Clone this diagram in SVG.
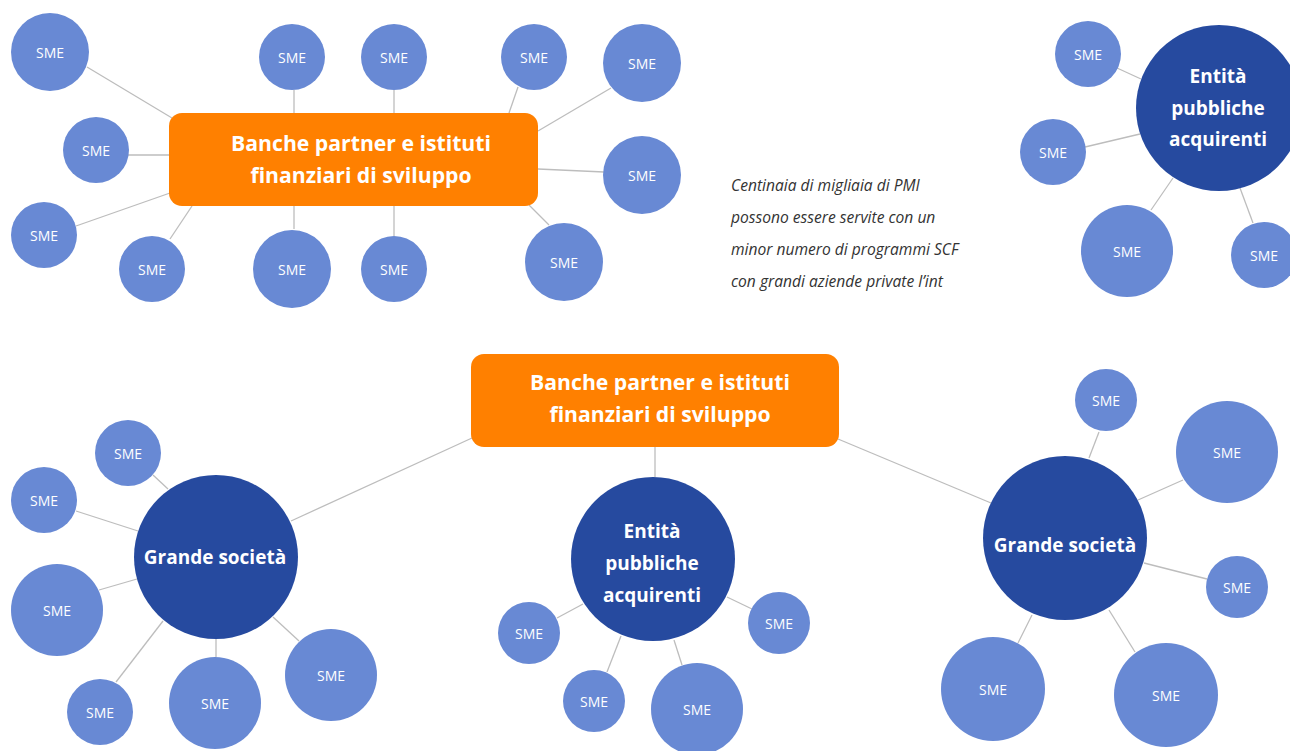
<svg xmlns="http://www.w3.org/2000/svg" width="1290" height="751" viewBox="0 0 1290 751">
  <style>
    .sme { fill: #6889D4; }
    .hub { fill: #264A9F; }
    .bank { fill: #FF8000; }
    .link { stroke: #BDBDBD; stroke-width: 1.3; fill: none; }
    .t-sme { font-family: "Open Sans", "Noto Sans", sans-serif; font-size: 14px; fill: #FFFFFF; text-anchor: middle; }
    .t-hub { font-family: "Open Sans", "Noto Sans", sans-serif; font-size: 19px; font-weight: bold; fill: #FFFFFF; text-anchor: middle; }
    .t-bank { font-family: "Open Sans", "Noto Sans", sans-serif; font-size: 21.2px; font-weight: bold; fill: #FFFFFF; text-anchor: middle; }
    .note { font-family: "Open Sans", "Noto Sans", sans-serif; font-size: 15.6px; font-style: italic; fill: #333333; }
  </style>

  <!-- connectors -->
  <g id="connectors" class="link">
    <!-- top-left bank cluster -->
    <line x1="87" y1="67" x2="172" y2="118"/>
    <line x1="127" y1="155" x2="170" y2="155"/>
    <line x1="76" y1="226" x2="170" y2="193"/>
    <line x1="170" y1="239" x2="192" y2="206"/>
    <line x1="294" y1="90" x2="294" y2="113"/>
    <line x1="394" y1="90" x2="394" y2="113"/>
    <line x1="518" y1="87" x2="509" y2="113"/>
    <line x1="611" y1="88" x2="538" y2="131"/>
    <line x1="604" y1="172" x2="538" y2="169"/>
    <line x1="549" y1="225" x2="529" y2="205"/>
    <line x1="294" y1="206" x2="294" y2="229"/>
    <line x1="394" y1="206" x2="394" y2="236"/>
    <!-- top-right public buyer cluster -->
    <line x1="1117" y1="68" x2="1141" y2="79"/>
    <line x1="1085" y1="147" x2="1140" y2="134"/>
    <line x1="1151" y1="210" x2="1173" y2="178"/>
    <line x1="1253" y1="223" x2="1240" y2="188"/>
    <!-- bottom bank to hubs -->
    <line x1="291" y1="521" x2="472" y2="438"/>
    <line x1="655" y1="447" x2="655" y2="477"/>
    <line x1="838" y1="439" x2="991" y2="503"/>
    <!-- bottom-left corporate -->
    <line x1="153" y1="475" x2="168" y2="489"/>
    <line x1="76" y1="511" x2="138" y2="531"/>
    <line x1="99" y1="590" x2="137" y2="579"/>
    <line x1="116" y1="682" x2="163" y2="621"/>
    <line x1="216" y1="639" x2="216" y2="657"/>
    <line x1="273" y1="617" x2="299" y2="641"/>
    <!-- bottom-centre public buyer -->
    <line x1="557" y1="618" x2="583" y2="604"/>
    <line x1="607" y1="672" x2="621" y2="636"/>
    <line x1="682" y1="665" x2="674" y2="640"/>
    <line x1="752" y1="609" x2="727" y2="597"/>
    <!-- bottom-right corporate -->
    <line x1="1099" y1="432" x2="1089" y2="458"/>
    <line x1="1183" y1="480" x2="1138" y2="500"/>
    <line x1="1207" y1="579" x2="1144" y2="563"/>
    <line x1="1018" y1="643" x2="1032" y2="615"/>
    <line x1="1135" y1="652" x2="1109" y2="610"/>
  </g>

  <!-- top-left: partner banks with SMEs -->
  <g id="bank-top">
    <rect class="bank" x="169" y="113" width="369" height="93" rx="13"/>
    <text class="t-bank" x="361" y="151">Banche partner e istituti</text>
    <text class="t-bank" x="361" y="183">finanziari di sviluppo</text>
  </g>
  <g id="sme-t1"><circle class="sme" cx="50" cy="52" r="39"/><text class="t-sme" x="50" y="58">SME</text></g>
  <g id="sme-t2"><circle class="sme" cx="96" cy="150" r="33"/><text class="t-sme" x="96" y="156">SME</text></g>
  <g id="sme-t3"><circle class="sme" cx="44" cy="235" r="33"/><text class="t-sme" x="44" y="241">SME</text></g>
  <g id="sme-t4"><circle class="sme" cx="152" cy="269" r="33"/><text class="t-sme" x="152" y="275">SME</text></g>
  <g id="sme-t5"><circle class="sme" cx="292" cy="57" r="33"/><text class="t-sme" x="292" y="63">SME</text></g>
  <g id="sme-t6"><circle class="sme" cx="394" cy="57" r="33"/><text class="t-sme" x="394" y="63">SME</text></g>
  <g id="sme-t7"><circle class="sme" cx="534" cy="57" r="33"/><text class="t-sme" x="534" y="63">SME</text></g>
  <g id="sme-t8"><circle class="sme" cx="642" cy="63" r="39"/><text class="t-sme" x="642" y="69">SME</text></g>
  <g id="sme-t9"><circle class="sme" cx="642" cy="175" r="39"/><text class="t-sme" x="642" y="181">SME</text></g>
  <g id="sme-t10"><circle class="sme" cx="564" cy="262" r="39"/><text class="t-sme" x="564" y="268">SME</text></g>
  <g id="sme-t11"><circle class="sme" cx="292" cy="269" r="39"/><text class="t-sme" x="292" y="275">SME</text></g>
  <g id="sme-t12"><circle class="sme" cx="394" cy="269" r="33"/><text class="t-sme" x="394" y="275">SME</text></g>

  <!-- explanatory note -->
  <g id="note">
    <text class="note" x="731" y="191">Centinaia di migliaia di PMI</text>
    <text class="note" x="731" y="223">possono essere servite con un</text>
    <text class="note" x="731" y="255">minor numero di programmi SCF</text>
    <text class="note" x="731" y="287">con grandi aziende private l’int</text>
  </g>

  <!-- top-right: public buyer with SMEs -->
  <g id="public-top">
    <circle class="hub" cx="1219" cy="108" r="83"/>
    <text class="t-hub" x="1218" y="83">Entità</text>
    <text class="t-hub" x="1218" y="114.5">pubbliche</text>
    <text class="t-hub" x="1218" y="146">acquirenti</text>
  </g>
  <g id="sme-r1"><circle class="sme" cx="1088" cy="54" r="33"/><text class="t-sme" x="1088" y="60">SME</text></g>
  <g id="sme-r2"><circle class="sme" cx="1053" cy="152" r="33"/><text class="t-sme" x="1053" y="158">SME</text></g>
  <g id="sme-r3"><circle class="sme" cx="1127" cy="251" r="46"/><text class="t-sme" x="1127" y="257">SME</text></g>
  <g id="sme-r4"><circle class="sme" cx="1264" cy="255" r="33"/><text class="t-sme" x="1264" y="261">SME</text></g>

  <!-- bottom: partner banks feeding three hubs -->
  <g id="bank-bottom">
    <rect class="bank" x="471" y="354" width="368" height="93" rx="13"/>
    <text class="t-bank" x="660" y="390">Banche partner e istituti</text>
    <text class="t-bank" x="660" y="422">finanziari di sviluppo</text>
  </g>

  <g id="corp-left">
    <circle class="hub" cx="216" cy="557" r="82"/>
    <text class="t-hub" x="215" y="564">Grande società</text>
  </g>
  <g id="sme-bl1"><circle class="sme" cx="128" cy="453" r="33"/><text class="t-sme" x="128" y="459">SME</text></g>
  <g id="sme-bl2"><circle class="sme" cx="44" cy="500" r="33"/><text class="t-sme" x="44" y="506">SME</text></g>
  <g id="sme-bl3"><circle class="sme" cx="57" cy="610" r="46"/><text class="t-sme" x="57" y="616">SME</text></g>
  <g id="sme-bl4"><circle class="sme" cx="100" cy="712" r="33"/><text class="t-sme" x="100" y="718">SME</text></g>
  <g id="sme-bl5"><circle class="sme" cx="215" cy="703" r="46"/><text class="t-sme" x="215" y="709">SME</text></g>
  <g id="sme-bl6"><circle class="sme" cx="331" cy="675" r="46"/><text class="t-sme" x="331" y="681">SME</text></g>

  <g id="public-bottom">
    <circle class="hub" cx="653" cy="559" r="82"/>
    <text class="t-hub" x="652" y="538">Entità</text>
    <text class="t-hub" x="652" y="570">pubbliche</text>
    <text class="t-hub" x="652" y="602">acquirenti</text>
  </g>
  <g id="sme-bc1"><circle class="sme" cx="529" cy="633" r="31"/><text class="t-sme" x="529" y="639">SME</text></g>
  <g id="sme-bc2"><circle class="sme" cx="594" cy="701" r="31"/><text class="t-sme" x="594" y="707">SME</text></g>
  <g id="sme-bc3"><circle class="sme" cx="697" cy="709" r="46"/><text class="t-sme" x="697" y="715">SME</text></g>
  <g id="sme-bc4"><circle class="sme" cx="779" cy="623" r="31"/><text class="t-sme" x="779" y="629">SME</text></g>

  <g id="corp-right">
    <circle class="hub" cx="1065" cy="538" r="82"/>
    <text class="t-hub" x="1065" y="552">Grande società</text>
  </g>
  <g id="sme-br1"><circle class="sme" cx="1106" cy="400" r="31"/><text class="t-sme" x="1106" y="406">SME</text></g>
  <g id="sme-br2"><circle class="sme" cx="1227" cy="452" r="51"/><text class="t-sme" x="1227" y="458">SME</text></g>
  <g id="sme-br3"><circle class="sme" cx="1237" cy="587" r="31"/><text class="t-sme" x="1237" y="593">SME</text></g>
  <g id="sme-br4"><circle class="sme" cx="993" cy="689" r="52"/><text class="t-sme" x="993" y="695">SME</text></g>
  <g id="sme-br5"><circle class="sme" cx="1166" cy="695" r="52"/><text class="t-sme" x="1166" y="701">SME</text></g>
</svg>
